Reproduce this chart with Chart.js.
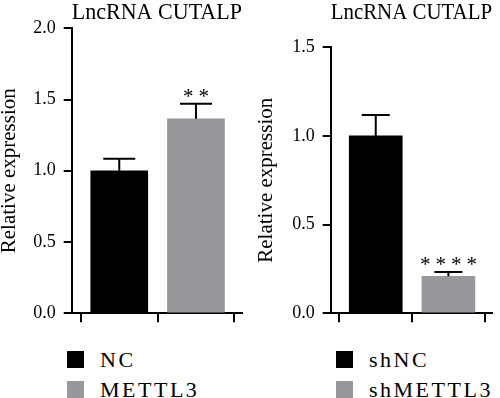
<!DOCTYPE html>
<html>
<head>
<meta charset="utf-8">
<script src="https://cdn.jsdelivr.net/npm/chart.js@4.4.1/dist/chart.umd.min.js"></script>
<style>
    body { margin: 0; background: #fff; }
    .panel { position: absolute; top: 0; width: 250px; height: 332px; }
    .legend { position: absolute; font-family: 'Liberation Serif', serif; font-size: 22px; letter-spacing: 2.5px; color: #000; }
    .legend div { position: relative; height: 30px; line-height: 17px; padding-left: 33px; }
    .legend span { position: absolute; left: 0; top: 0; width: 17px; height: 17px; }
</style>
</head>
<body>
<div class="panel" style="left:0"><canvas id="left-chart"></canvas></div>
<div class="panel" style="left:250px"><canvas id="right-chart"></canvas></div>
<div class="legend" id="left-legend" style="left:67px; top:351px"></div>
<div class="legend" id="right-legend" style="left:336px; top:351px"></div>

<script>
// Chart data
const chartTitle = 'LncRNA CUTALP';
const yTitle = 'Relative expression';

const leftGroups = ['NC', 'METTL3'];
const leftValues = [1.0, 1.365];
const leftErrors = [0.085, 0.105];
const leftStars = ['', '**'];
const leftTicks = [0, 0.5, 1.0, 1.5, 2.0];

const rightGroups = ['shNC', 'shMETTL3'];
const rightValues = [1.0, 0.208];
const rightErrors = [0.118, 0.024];
const rightStars = ['', '****'];
const rightTicks = [0, 0.5, 1.0, 1.5];

const barColors = ['#000000', '#97989c'];
const font = 'Liberation Serif';

// Draws the error bars and significance stars on top of the bars
const errorBarPlugin = {
    id: 'errorBars',
    afterDatasetsDraw(chart, args, opts) {
        const ctx = chart.ctx;
        const x = chart.scales.x;
        const y = chart.scales.y;
        ctx.save();
        ctx.strokeStyle = '#000';
        ctx.lineWidth = 2;
        opts.values.forEach((v, i) => {
            const cx = x.getPixelForValue(i);
            const top = y.getPixelForValue(v + opts.errors[i]);
            ctx.beginPath();
            ctx.moveTo(cx, y.getPixelForValue(v));
            ctx.lineTo(cx, top);
            ctx.moveTo(cx - opts.cap / 2, top);
            ctx.lineTo(cx + opts.cap / 2, top);
            ctx.stroke();
            if (opts.stars[i]) {
                ctx.fillStyle = '#000';
                ctx.font = '21px ' + font;
                ctx.letterSpacing = '5px';
                ctx.textAlign = 'center';
                ctx.textBaseline = 'top';
                ctx.fillText(opts.stars[i], cx + 2.5, top - 17);
            }
        });
        ctx.restore();
    }
};

function makeChart(id, groups, values, errors, stars, ticks, opt) {
    const ctx = document.getElementById(id).getContext('2d');
    return new Chart(ctx, {
        type: 'bar',
        data: {
            datasets: [{
                data: values.map((v, i) => ({ x: i, y: v })),
                backgroundColor: barColors,
                borderWidth: 0,
                barThickness: opt.barWidth
            }]
        },
        options: {
            responsive: true,
            maintainAspectRatio: false,
            animation: false,
            layout: { padding: opt.padding },
            plugins: {
                legend: { display: false },
                tooltip: { enabled: false },
                title: {
                    display: true,
                    text: chartTitle,
                    fullSize: false,
                    color: '#000',
                    font: { family: font, size: 23, weight: 'normal', lineHeight: 1.1 },
                    padding: { top: 0, bottom: opt.titleGap }
                },
                errorBars: { values, errors, stars, cap: opt.cap }
            },
            scales: {
                x: {
                    type: 'linear',
                    min: -0.62,
                    max: 1.6,
                    offset: false,
                    afterBuildTicks: s => { s.ticks = groups.map((g, i) => ({ value: i })); },
                    ticks: { display: false },
                    grid: { drawOnChartArea: false, drawTicks: true, tickLength: 9, color: '#000', lineWidth: 2 },
                    border: { color: '#000', width: 2 }
                },
                y: {
                    min: 0,
                    max: ticks[ticks.length - 1],
                    afterBuildTicks: s => { s.ticks = ticks.map(t => ({ value: t })); },
                    ticks: {
                        color: '#000',
                        padding: 8,
                        font: { family: font, size: 18 },
                        callback: v => v.toFixed(1)
                    },
                    grid: { drawOnChartArea: false, drawTicks: true, tickLength: 8, color: '#000', lineWidth: 2 },
                    border: { color: '#000', width: 2 },
                    title: {
                        display: true,
                        text: yTitle,
                        color: '#000',
                        font: { family: font, size: 21 },
                        padding: { top: 0, bottom: opt.yTitleGap }
                    }
                }
            }
        },
        plugins: [errorBarPlugin]
    });
}

function makeLegend(id, groups) {
    const box = document.getElementById(id);
    groups.forEach((g, i) => {
        const row = document.createElement('div');
        row.innerHTML = `<span style="background:${barColors[i]}"></span>${g}`;
        box.appendChild(row);
    });
}

makeChart('left-chart', leftGroups, leftValues, leftErrors, leftStars, leftTicks,
    { barWidth: 57, cap: 32, titleGap: 3, yTitleGap: 3, padding: { left: -3, right: 8, top: 0, bottom: 8 } });
makeChart('right-chart', rightGroups, rightValues, rightErrors, rightStars, rightTicks,
    { barWidth: 53, cap: 28, titleGap: 22, yTitleGap: 5, padding: { left: 4, right: 8, top: 0, bottom: 8 } });

makeLegend('left-legend', leftGroups);
makeLegend('right-legend', rightGroups);
</script>
</body>
</html>
